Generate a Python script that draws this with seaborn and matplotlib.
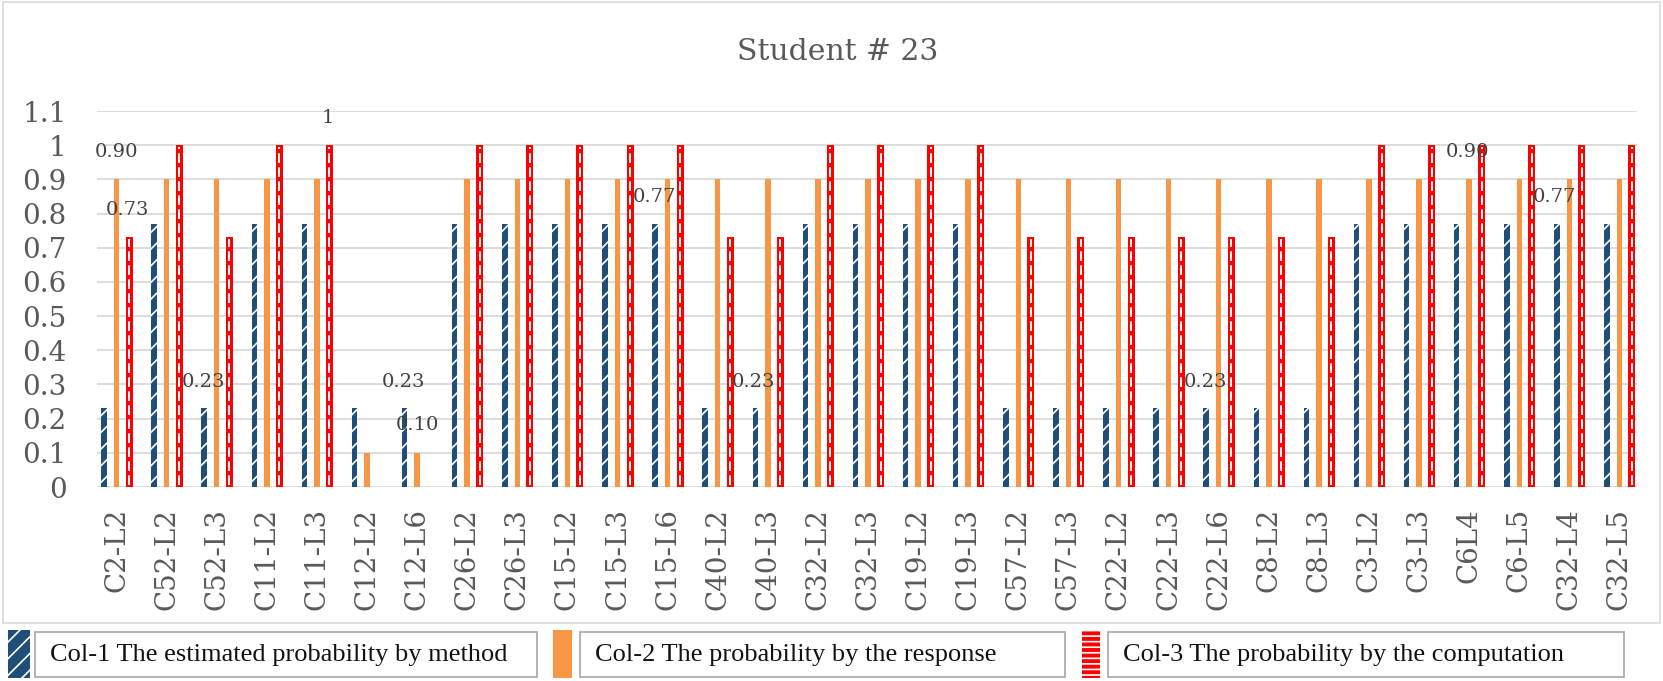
import numpy as np
import pandas as pd
import matplotlib
matplotlib.use("Agg")
import matplotlib.pyplot as plt
import seaborn as sns
from matplotlib.patches import Rectangle

# Student #23: three probability estimates per (concept, level) item
categories = [
    "C2-L2", "C52-L2", "C52-L3", "C11-L2", "C11-L3", "C12-L2", "C12-L6",
    "C26-L2", "C26-L3", "C15-L2", "C15-L3", "C15-L6", "C40-L2", "C40-L3",
    "C32-L2", "C32-L3", "C19-L2", "C19-L3", "C57-L2", "C57-L3", "C22-L2",
    "C22-L3", "C22-L6", "C8-L2", "C8-L3", "C3-L2", "C3-L3", "C6L4",
    "C6-L5", "C32-L4", "C32-L5",
]
col1_method = [
    0.23, 0.77, 0.23, 0.77, 0.77, 0.23, 0.23, 0.77, 0.77, 0.77, 0.77,
    0.77, 0.23, 0.23, 0.77, 0.77, 0.77, 0.77, 0.23, 0.23, 0.23, 0.23,
    0.23, 0.23, 0.23, 0.77, 0.77, 0.77, 0.77, 0.77, 0.77,
]
col2_response = [
    0.90, 0.90, 0.90, 0.90, 0.90, 0.10, 0.10, 0.90, 0.90, 0.90, 0.90,
    0.90, 0.90, 0.90, 0.90, 0.90, 0.90, 0.90, 0.90, 0.90, 0.90, 0.90,
    0.90, 0.90, 0.90, 0.90, 0.90, 0.90, 0.90, 0.90, 0.90,
]
col3_computation = [
    0.73, 1.00, 0.73, 1.00, 1.00, 0.00, 0.00, 1.00, 1.00, 1.00, 1.00,
    1.00, 0.73, 0.73, 1.00, 1.00, 1.00, 1.00, 0.73, 0.73, 0.73, 0.73,
    0.73, 0.73, 0.73, 1.00, 1.00, 1.00, 1.00, 1.00, 1.00,
]
series_names = [
    "Col-1 The estimated probability by method",
    "Col-2 The probability by the response",
    "Col-3 The probability by the computation",
]
y_ticks = [0, 0.1, 0.2, 0.3, 0.4, 0.5, 0.6, 0.7, 0.8, 0.9, 1.0, 1.1]

# stray data labels as they sit in the original chart (x in category units)
value_notes = [
    (-0.01, 0.98, "0.90"), (0.21, 0.81, "0.73"), (4.22, 1.08, "1"),
    (1.73, 0.307, "0.23"), (5.72, 0.307, "0.23"), (6.0, 0.181, "0.10"),
    (10.73, 0.848, "0.77"), (12.72, 0.307, "0.23"), (21.73, 0.307, "0.23"),
    (26.97, 0.98, "0.90"), (28.71, 0.848, "0.77"),
]

colors = ["#1f4e79", "#f79646", "#ff0000"]
grey_text = "#595959"
W, H = 1663, 681

sns.set_theme(style="white")
plt.rcParams["font.family"] = ["DejaVu Serif"]
plt.rcParams["hatch.linewidth"] = 1.2

df = pd.DataFrame({
    "category": categories * 3,
    "series": np.repeat(series_names, len(categories)),
    "value": col1_method + col2_response + col3_computation,
})

fig = plt.figure(figsize=(W / 100, H / 100), dpi=100)
ax = fig.add_axes([97 / W, (H - 487) / H, 1540 / W, 376 / H])

sns.barplot(
    data=df, x="category", y="value", hue="series", order=categories,
    hue_order=series_names, palette=colors, width=0.75, saturation=1,
    errorbar=None, legend=False, ax=ax,
)

# thin the bars to leave gaps like the original, then add the patterns
bar_widths = [0.11, 0.11, 0.14]
for k, (cont, w) in enumerate(zip(ax.containers, bar_widths)):
    for bar in cont:
        cx = bar.get_x() + bar.get_width() / 2
        bar.set_width(w)
        bar.set_x(cx - w / 2)
        bar.set_linewidth(0)
        if k == 0:
            bar.set_hatch("//")
            bar.set_edgecolor("white")
        elif k == 2 and bar.get_height() > 0:
            ax.vlines(cx, 0.005, bar.get_height() - 0.005, color="white",
                      lw=1.4, linestyles=(0, (5, 2.2)), zorder=3)

for x, y, t in value_notes:
    ax.text(x, y, t, ha="center", va="center", fontsize=14, color="#404040")

ax.set_xlim(-0.39, 30.35)
ax.set_ylim(0, 1.1)
ax.set_yticks(y_ticks)
ax.set_yticklabels([f"{v:g}" for v in y_ticks])
ax.grid(axis="y", color="#d9d9d9", lw=1.3)
ax.set_axisbelow(True)
for s in ax.spines.values():
    s.set_visible(False)
ax.tick_params(axis="y", length=0, pad=22, labelsize=20, labelcolor=grey_text)
ax.tick_params(axis="x", length=0, pad=15, labelsize=20, labelcolor=grey_text,
               labelrotation=90)
ax.set_xlabel("")
ax.set_ylabel("")

fig.text(838 / W, 1 - 52 / H, "Student # 23", ha="center", va="center",
         fontsize=21.5, color=grey_text)

# chart-area border
fig.add_artist(Rectangle((3 / W, 1 - 623 / H), 1657 / W, 621 / H,
                         transform=fig.transFigure, fill=False,
                         edgecolor="#d9d9d9", lw=1.2))

# legend: swatch + separate framed label per series
def px_rect(x0, x1, y0, y1, **kw):
    return Rectangle((x0 / W, 1 - y1 / H), (x1 - x0) / W, (y1 - y0) / H,
                     transform=fig.transFigure, **kw)

swatches = [(8, 30), (553, 572), (1082, 1100)]
boxes = [(35, 537), (580, 1065), (1108, 1624)]
swatch_hatch = ["//", None, "---"]
for (sx0, sx1), (bx0, bx1), c, h, name in zip(swatches, boxes, colors,
                                               swatch_hatch, series_names):
    fig.add_artist(px_rect(sx0, sx1, 630, 678, facecolor=c,
                           edgecolor="white" if h else c, hatch=h, lw=0))
    fig.add_artist(px_rect(bx0, bx1, 632, 677, fill=False,
                           edgecolor="#a6a6a6", lw=1.2))
    fig.text((bx0 + 15) / W, 1 - 655 / H, name, ha="left", va="center",
             fontsize=19, color="#111111", family=["Liberation Serif"])

fig.savefig("out.png", dpi=100)
